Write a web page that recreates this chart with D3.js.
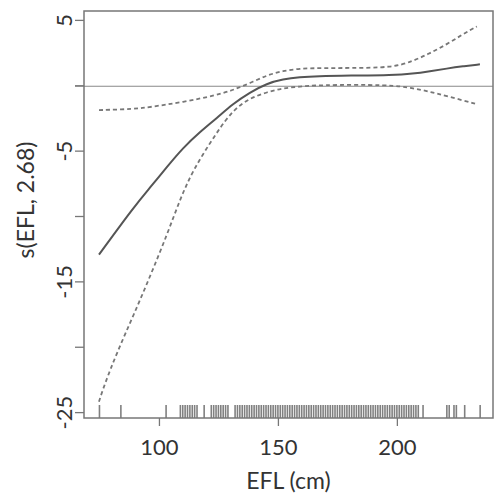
<!DOCTYPE html>
<html>
<head>
<meta charset="utf-8">
<script src="https://cdn.jsdelivr.net/npm/d3@7"></script>
<style>
  body { margin: 0; background: #fff; }
  text { font-family: Lato, "Open Sans", sans-serif; fill: #333; }
</style>
</head>
<body>
<div id="gam-chart"></div>
<script>
// EFL values along the fitted smooth
const efl = [74.8, 89.5, 96.2, 103.4, 110.1, 117.2, 124.4, 131.1, 138.2, 145.4, 152.1, 159.2, 166.6, 180, 198.3, 206.7, 213.9, 221, 227.7, 234.9];
// fitted s(EFL)
const fit = [-12.95, -9.29, -7.84, -6.24, -4.79, -3.57, -2.5, -1.42, -0.55, 0.14, 0.46, 0.62, 0.7, 0.74, 0.77, 0.88, 1.07, 1.28, 1.45, 1.6];
// upper / lower confidence band
const upperX = [74.8, 89.5, 96.2, 110.1, 124.4, 131.1, 138.2, 145.4, 152.1, 159.2, 166.6, 180, 198.3, 206.7, 213.9, 221, 227.7, 233.6];
const upper = [-1.9, -1.82, -1.67, -1.29, -0.75, -0.37, 0.16, 0.77, 1.1, 1.28, 1.31, 1.32, 1.35, 1.84, 2.45, 3.13, 3.9, 4.5];
const lowerX = [74.8, 76.9, 82.4, 89.5, 96.6, 103.4, 108.8, 114.3, 124.4, 131.1, 138.2, 145.4, 152.1, 159.2, 166.6, 197, 206.7, 214, 221, 233.6];
const lower = [-24.2, -23.0, -20.42, -17.52, -14.47, -11.43, -8.76, -6.47, -3.57, -1.9, -0.98, -0.53, -0.22, -0.1, 0.02, 0.05, -0.22, -0.5, -0.83, -1.44];
// observations (rug)
const rug = [75, 84, 103, 109, 110, 111, 112, 113, 114, 115, 116, 119, 122, 123, 124, 125, 126, 127, 128, 129,
  132, 133, 134, 135, 136, 137, 138, 139, 140, 141, 142, 143, 144, 145, 146, 147, 148, 149, 150, 151, 152,
  153, 154, 155, 156, 157, 158, 159, 160, 161, 162, 163, 164, 165, 166, 167, 168, 169, 170, 171, 172, 173,
  174, 175, 176, 177, 178, 179, 180, 181, 182, 183, 184, 185, 186, 187, 188, 189, 190, 191, 192, 193, 194,
  195, 196, 197, 198, 199, 200, 201, 202, 203, 204, 205, 206, 207, 208, 209, 211, 221, 222, 224, 225, 228.5, 235];
const xTicks = [100, 150, 200];
const yTicks = [-25, -20, -15, -10, -5, 0, 5];
const yLabels = [-25, -15, -5, 5];

const margin = { top: 11, right: 4, bottom: 77, left: 84 };
const W = 497, H = 495;
const width = W - margin.left - margin.right;
const height = H - margin.top - margin.bottom;

const svg = d3.select("#gam-chart").append("svg")
  .attr("width", W)
  .attr("height", H)
  .append("g")
  .attr("transform", "translate(" + margin.left + "," + margin.top + ")");

const x = d3.scaleLinear().domain([68.5, 240.4]).range([0, width]);
const y = d3.scaleLinear().domain([-25.45, 5.68]).range([height, 0]);

// zero reference line (starts under the tick)
svg.append("line")
  .attr("x1", -9).attr("x2", width)
  .attr("y1", y(0) + 1).attr("y2", y(0) + 1)
  .attr("stroke", "#888").attr("stroke-width", 1.2);

// axes
const yAxis = svg.append("g")
  .call(d3.axisLeft(y).tickValues(yTicks).tickSize(9)
    .tickFormat(d => yLabels.includes(d) ? d : ""));
yAxis.select(".domain").remove();
yAxis.selectAll("line").attr("stroke", "#777").attr("stroke-width", 1.3);
yAxis.selectAll("text")
  .attr("transform", "rotate(-90)")
  .attr("x", 0)
  .attr("y", -12)
  .attr("dy", 0)
  .style("text-anchor", "middle")
  .style("font-size", "22px")
  .style("fill", "#333");

const xAxis = svg.append("g")
  .attr("transform", "translate(0," + height + ")")
  .call(d3.axisBottom(x).tickValues(xTicks).tickSize(8));
xAxis.select(".domain").remove();
xAxis.selectAll("line").attr("stroke", "#777").attr("stroke-width", 1.3);
xAxis.selectAll("text")
  .attr("y", 37).attr("dy", 0)
  .style("font-size", "22px")
  .style("fill", "#333");

// rug
svg.selectAll(".rug")
  .data(rug)
  .enter()
  .append("line")
  .attr("class", "rug")
  .attr("x1", d => x(d)).attr("x2", d => x(d))
  .attr("y1", height).attr("y2", height - 13)
  .attr("stroke", "#555").attr("stroke-width", 1.6)
  .attr("stroke-opacity", 0.75);

// curves (smoothed through the read-off points)
const line = d3.line()
  .x(d => x(d[0]))
  .y(d => y(d[1]))
  .curve(d3.curveBasis);

svg.append("path")
  .datum(efl.map((e, i) => [e, fit[i]]))
  .attr("d", line)
  .attr("fill", "none").attr("stroke", "#555").attr("stroke-width", 2);

svg.append("path")
  .datum(upperX.map((e, i) => [e, upper[i]]))
  .attr("d", line)
  .attr("fill", "none").attr("stroke", "#777").attr("stroke-width", 1.8)
  .attr("stroke-dasharray", "4,3");

svg.append("path")
  .datum(lowerX.map((e, i) => [e, lower[i]]))
  .attr("d", line)
  .attr("fill", "none").attr("stroke", "#777").attr("stroke-width", 1.8)
  .attr("stroke-dasharray", "4,3");

// frame
svg.append("rect")
  .attr("width", width).attr("height", height)
  .attr("fill", "none").attr("stroke", "#777").attr("stroke-width", 1.5);

// titles
svg.append("text")
  .attr("x", width / 2).attr("y", height + 71)
  .style("text-anchor", "middle").style("font-size", "23px")
  .text("EFL (cm)");

svg.append("text")
  .attr("transform", "rotate(-90)")
  .attr("x", -(200 - margin.top)).attr("y", -50)
  .style("text-anchor", "middle").style("font-size", "23px")
  .text("s(EFL, 2.68)");
</script>
</body>
</html>
